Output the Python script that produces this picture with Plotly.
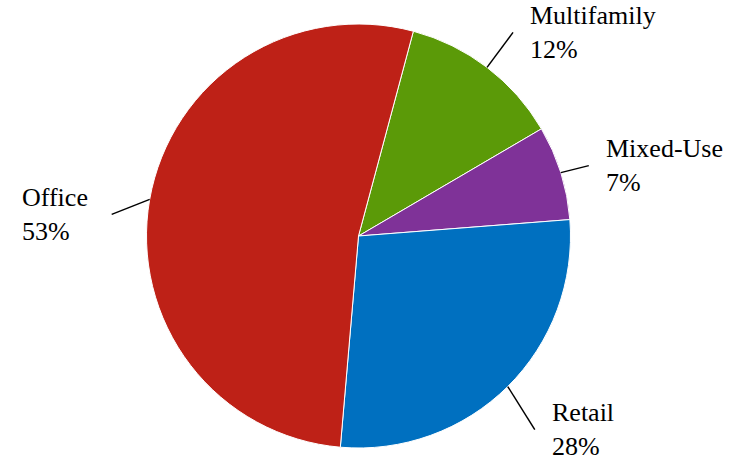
import math
import plotly.graph_objects as go

categories = ["Multifamily", "Mixed-Use", "Retail", "Office"]
values = [12.4, 7.2, 27.6, 52.8]
colors = ["#5B9A08", "#7F3298", "#0070C0", "#BE2117"]

# style: leader-line offsets (px) and label side
line_offsets = [(26, -35), (28, -7), (27, 43), (-38, 15)]
label_side = ["left", "left", "left", "right"]

W, H = 738, 461
ROT = 15
CX, CY, R = 358.5, 236.0, 212.0
FONT = "Times New Roman, Liberation Serif, Times, DejaVu Serif, serif"

fig = go.Figure(go.Pie(
    labels=categories,
    values=values,
    sort=False,
    direction="clockwise",
    rotation=ROT,
    textinfo="none",
    hoverinfo="label+percent",
    marker=dict(colors=colors, line=dict(color="white", width=1)),
    domain=dict(x=[0, (2 * CX) / W], y=[1 - (CY + R) / H, 1 - (CY - R) / H]),
    showlegend=False,
))

total = sum(values)
cum = 0.0
shapes = []
annotations = []
for cat, v, (ox, oy), side in zip(categories, values, line_offsets, label_side):
    mid = ROT + (cum + v / 2) / total * 360.0
    cum += v
    a = math.radians(mid)
    sx = CX + R * math.sin(a)
    sy = CY - R * math.cos(a)
    ex, ey = sx + ox, sy + oy
    shapes.append(dict(type="line", xref="paper", yref="paper",
                       x0=sx / W, y0=1 - sy / H, x1=ex / W, y1=1 - ey / H,
                       line=dict(color="black", width=1.5)))
    pct = f"{round(v / total * 100)}%"
    annotations.append(dict(
        x=ex / W, y=1 - ey / H, xref="paper", yref="paper",
        text=f"{cat}<br>{pct}", showarrow=False,
        xanchor=side, yanchor="middle", align="left",
        xshift=15 if side == "left" else -22,
        font=dict(family=FONT, size=26, color="black"),
    ))

fig.update_layout(
    width=W, height=H,
    margin=dict(l=0, r=0, t=0, b=0),
    paper_bgcolor="white",
    plot_bgcolor="white",
    shapes=shapes,
    annotations=annotations,
    font=dict(family=FONT),
)

fig.write_html(
    "out.html",
    config={"displayModeBar": False},
    post_script="document.body.style.margin='0';document.body.style.padding='0';",
)
